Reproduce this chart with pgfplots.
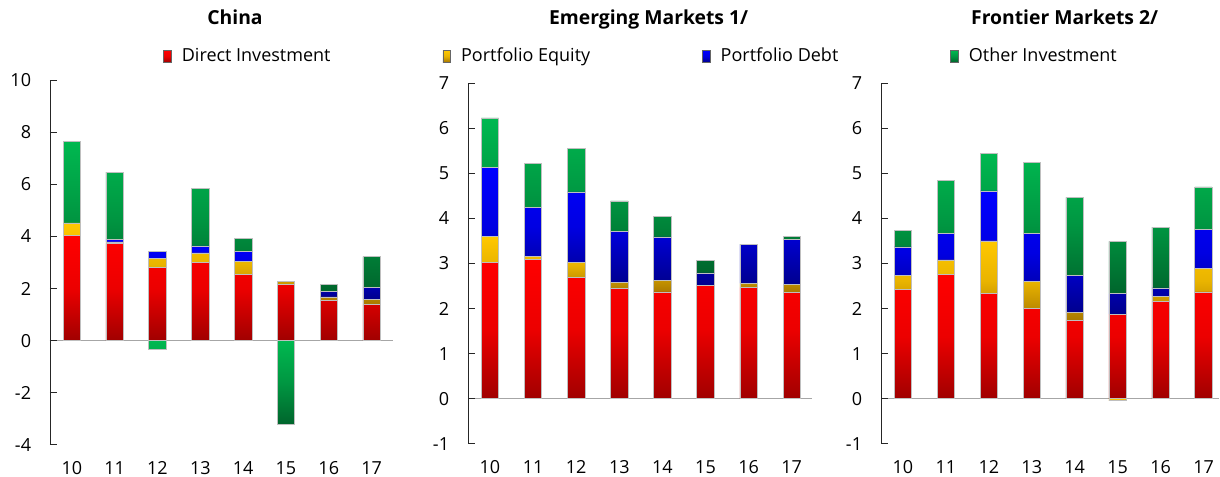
\documentclass[border=0pt]{standalone}
\usepackage{fontspec}
\setmainfont{Open Sans}
\usepackage{pgfplots}
\usepackage{pgfplotstable}
\pgfplotsset{compat=1.18}

\definecolor{rT}{HTML}{FF0000}\definecolor{rB}{HTML}{A00000}
\definecolor{yT}{HTML}{FFC800}\definecolor{yB}{HTML}{A87800}
\definecolor{bT}{HTML}{0000FF}\definecolor{bB}{HTML}{00008C}
\definecolor{gT}{HTML}{00B850}\definecolor{gB}{HTML}{00652C}
\definecolor{zl}{HTML}{A6A6A6}

\tikzset{
  DIs/.style={top color=rT, bottom color=rB, middle color=rT!80!rB, draw=gray!50, line width=0.5pt},
  PEs/.style={top color=yT, bottom color=yB, middle color=yT!75!yB, draw=gray!50, line width=0.5pt},
  PDs/.style={top color=bT, bottom color=bB, middle color=bT!75!bB, draw=gray!50, line width=0.5pt},
  OIs/.style={top color=gT, bottom color=gB, middle color=gT!60!gB, draw=gray!50, line width=0.5pt},
}

\pgfplotsset{
  panel/.style={
    scale only axis,
    ybar stacked,
    bar width=13.1pt,
    axis lines*=left,
    x axis line style={draw=none},
    y axis line style={draw=black!85, line width=0.6pt},
    xtick style={draw=none},
    ytick style={draw=black!85, line width=0.6pt},
    tick align=inside,
    major tick length=5pt,
    xmin=9.49,
    xtick={10,...,17},
    xticklabels={10,11,12,13,14,15,16,17},
    /pgf/number format/assume math mode=true,
    yticklabel style={xshift=-9.5pt},
    xticklabel style={yshift=-8pt},
    extra y ticks={0},
    extra y tick labels={},
    extra y tick style={grid=major, major grid style={draw=zl, line width=1.1pt}, tick style={draw=none}},
  },
}

\pgfplotstableread{
x DI PE PD OI
10 4.03 0.49 0.00 3.14
11 3.74 0.05 0.11 2.57
12 2.82 0.33 0.29 0.00
13 3.02 0.35 0.27 2.21
14 2.55 0.50 0.38 0.49
15 2.16 0.13 0.00 0.00
16 1.54 0.14 0.21 0.27
17 1.38 0.21 0.47 1.17
}\chinaT

\pgfplotstableread{
x DI PE PD OI
10 3.03 0.57 1.53 1.10
11 3.09 0.06 1.09 0.99
12 2.69 0.34 1.56 0.97
13 2.44 0.14 1.14 0.67
14 2.37 0.26 0.96 0.45
15 2.51 0.00 0.28 0.27
16 2.47 0.09 0.86 0.01
17 2.35 0.19 1.00 0.06
}\emT

\pgfplotstableread{
x DI PE PD OI
10 2.42 0.31 0.64 0.37
11 2.75 0.33 0.58 1.19
12 2.34 1.16 1.11 0.84
13 2.00 0.60 1.06 1.58
14 1.73 0.18 0.83 1.73
15 1.88 0.00 0.45 1.16
16 2.16 0.11 0.19 1.35
17 2.37 0.52 0.87 0.94
}\fmT

\begin{document}
\fontsize{13.5pt}{16pt}\selectfont
\begin{tikzpicture}
\path[use as bounding box] (0,0) rectangle (915pt,357.75pt);

% China
\begin{axis}[panel, at={(37.5pt,24.08pt)}, anchor=south west,
  width=257.25pt, height=273.5pt, xmax=17.5,
  ymin=-4, ymax=10, ytick={-4,-2,...,10},
  legend columns=4,
  legend entries={Direct Investment, Portfolio Equity, Portfolio Debt, Other Investment},
  legend image code/.code={\draw[#1, draw=black!60, line width=0.4pt] (0pt,-4.4pt) rectangle (5.5pt,4.4pt);},
  legend style={draw=none, fill=none, inner sep=0pt, outer sep=0pt,
    at={(rel axis cs:0.3303,1.0658)}, anchor=west,
    /tikz/every odd column/.append style={column sep=6pt},
    /tikz/every even column/.append style={column sep=82pt}},
]
\addlegendimage{DIs}
\addlegendimage{PEs}
\addlegendimage{PDs}
\addlegendimage{OIs}
\addplot[DIs] table[x=x, y=DI] {\chinaT};
\addplot[PEs] table[x=x, y=PE] {\chinaT};
\addplot[PDs] table[x=x, y=PD] {\chinaT};
\addplot[OIs] table[x=x, y=OI] {\chinaT};
\addplot[OIs, stack plots=false] coordinates {(12,-0.33) (15,-3.20)};
\addplot[PDs, stack plots=false] coordinates {(15,-0.08)};
\end{axis}

% Emerging Markets
\begin{axis}[panel, at={(351pt,24.9pt)}, anchor=south west,
  width=258pt, height=270.4pt, xmax=17.47,
  ymin=-1, ymax=7, ytick={-1,0,...,7},
]
\addplot[DIs] table[x=x, y=DI] {\emT};
\addplot[PEs] table[x=x, y=PE] {\emT};
\addplot[PDs] table[x=x, y=PD] {\emT};
\addplot[OIs] table[x=x, y=OI] {\emT};
\end{axis}

% Frontier Markets
\begin{axis}[panel, at={(660.75pt,24.9pt)}, anchor=south west,
  width=253.5pt, height=270.4pt, xmax=17.36,
  ymin=-1, ymax=7, ytick={-1,0,...,7},
]
\addplot[DIs] table[x=x, y=DI] {\fmT};
\addplot[PEs] table[x=x, y=PE] {\fmT};
\addplot[PDs] table[x=x, y=PD] {\fmT};
\addplot[OIs] table[x=x, y=OI] {\fmT};
\addplot[PEs, stack plots=false] coordinates {(15,-0.04)};
\end{axis}

\node[font=\bfseries\fontsize{14.5pt}{17pt}\selectfont, anchor=base] at (176.25pt,339pt) {China};
\node[font=\bfseries\fontsize{14.5pt}{17pt}\selectfont, anchor=base] at (486.45pt,339pt) {Emerging Markets 1/};
\node[font=\bfseries\fontsize{14.5pt}{17pt}\selectfont, anchor=base] at (798.45pt,339pt) {Frontier Markets 2/};
\end{tikzpicture}
\end{document}
